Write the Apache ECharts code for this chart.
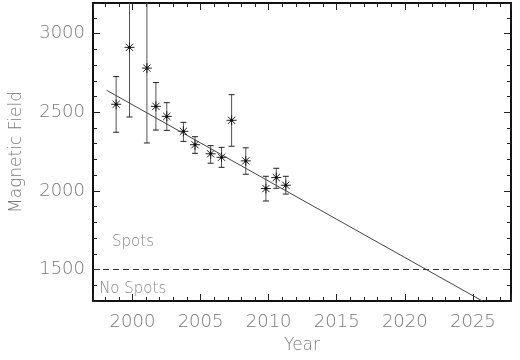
<!DOCTYPE html>
<html>
<head>
<meta charset="utf-8">
<script src="https://cdn.jsdelivr.net/npm/echarts@6/dist/echarts.min.js"></script>
<style>
  html, body { margin: 0; padding: 0; background: #fff; }
  #container { width: 520px; height: 360px; }
</style>
</head>
<body>
<div id="container"></div>
<script>
const years = [1998.8, 1999.78, 2001.06, 2001.72, 2002.52, 2003.74, 2004.59, 2005.74, 2006.54, 2007.28, 2008.32, 2009.8, 2010.56, 2011.26];
const field = [2551, 2913, 2781, 2538, 2474, 2379, 2294, 2236, 2214, 2449, 2191, 2015, 2085, 2036];
const errLow = [2373, 2470, 2305, 2387, 2385, 2315, 2239, 2176, 2150, 2284, 2106, 1936, 2017, 1980];
const errHigh = [2727, 3356, 3257, 2689, 2561, 2436, 2345, 2288, 2277, 2612, 2274, 2093, 2144, 2093];

// linear fit end points
const fitYears = [1998.1, 2025.7];
const fitField = [2640, 1300];

const threshold = 1500;
const notes = [
    { text: 'Spots', year: 1998.5, value: 1675 },
    { text: 'No Spots', year: 1997.55, value: 1375 }
];

const xMin = 1997.1, xMax = 2027.8;
const yMin = 1300, yMax = 3195;

const FONT = 'DejaVu Sans';
const TXT = '#7a7a7a';

const myChart = echarts.init(document.getElementById('container'));

const errData = years.map((y, i) => [y, field[i], errLow[i], errHigh[i]]);
const fitData = fitYears.map((y, i) => [y, fitField[i]]);

const axisCommon = {
    type: 'value',
    axisLine: { show: true, lineStyle: { color: '#111', width: 2 } },
    axisTick: { show: true, inside: true, length: 7, lineStyle: { color: '#222', width: 1 } },
    minorTick: { show: true, splitNumber: 5, length: 4, lineStyle: { color: '#222', width: 1 } },
    splitLine: { show: false },
};

const option = {
    animation: false,
    backgroundColor: '#fff',
    grid: { left: 89, right: 9, top: 3, bottom: 59 },
    xAxis: [
        Object.assign({}, axisCommon, {
            min: xMin, max: xMax,
            position: 'bottom',
            name: 'Year',
            nameLocation: 'middle',
            nameGap: 36,
            nameTextStyle: { fontFamily: FONT, fontSize: 17, color: TXT, fontWeight: 200 },
            axisLabel: {
                fontFamily: FONT, fontSize: 18, color: TXT, fontWeight: 200, margin: 12,
                showMinLabel: false, showMaxLabel: false,
                formatter: v => (v % 5 === 0 ? String(v) : '')
            }
        }),
        Object.assign({}, axisCommon, {
            min: xMin, max: xMax,
            position: 'top',
            axisLabel: { show: false }
        })
    ],
    yAxis: [
        Object.assign({}, axisCommon, {
            min: yMin, max: yMax,
            splitNumber: 4,
            position: 'left',
            name: 'Magnetic Field',
            nameLocation: 'middle',
            nameGap: 68,
            nameTextStyle: { fontFamily: FONT, fontSize: 17, color: TXT, fontWeight: 200 },
            axisLabel: {
                fontFamily: FONT, fontSize: 18, color: TXT, fontWeight: 200, margin: 8,
                showMinLabel: false, showMaxLabel: false,
                formatter: v => (v % 500 === 0 ? String(v) : '')
            }
        }),
        Object.assign({}, axisCommon, {
            min: yMin, max: yMax,
            splitNumber: 4,
            position: 'right',
            axisLabel: { show: false }
        })
    ],
    series: [
        {
            name: 'fit',
            type: 'line',
            data: fitData,
            symbol: 'none',
            lineStyle: { color: '#444', width: 1 },
            markLine: {
                silent: true,
                symbol: 'none',
                label: { show: false },
                lineStyle: { color: '#333', width: 1, type: [6, 4] },
                data: [{ yAxis: threshold }]
            }
        },
        {
            name: 'field',
            type: 'custom',
            clip: true,
            data: errData,
            renderItem: function (params, api) {
                const c = api.coord([api.value(0), api.value(1)]);
                const lo = api.coord([api.value(0), api.value(2)]);
                const hi = api.coord([api.value(0), api.value(3)]);
                const cap = 3;
                const s = 5;
                const d = 3.6;
                const st = { stroke: '#222', lineWidth: 1 };
                return {
                    type: 'group',
                    children: [
                        { type: 'line', shape: { x1: lo[0], y1: lo[1], x2: hi[0], y2: hi[1] }, style: { stroke: '#555', lineWidth: 1 } },
                        { type: 'line', shape: { x1: lo[0] - cap, y1: lo[1], x2: lo[0] + cap, y2: lo[1] }, style: st },
                        { type: 'line', shape: { x1: hi[0] - cap, y1: hi[1], x2: hi[0] + cap, y2: hi[1] }, style: st },
                        { type: 'line', shape: { x1: c[0], y1: c[1] - s, x2: c[0], y2: c[1] + s }, style: st },
                        { type: 'line', shape: { x1: c[0] - s, y1: c[1], x2: c[0] + s, y2: c[1] }, style: st },
                        { type: 'line', shape: { x1: c[0] - d, y1: c[1] - d, x2: c[0] + d, y2: c[1] + d }, style: st },
                        { type: 'line', shape: { x1: c[0] - d, y1: c[1] + d, x2: c[0] + d, y2: c[1] - d }, style: st },
                        { type: 'circle', shape: { cx: c[0], cy: c[1], r: 1.5 }, style: { fill: '#111' } }
                    ]
                };
            }
        },
        {
            name: 'notes',
            type: 'scatter',
            symbolSize: 0,
            silent: true,
            data: notes.map(n => ({ value: [n.year, n.value], name: n.text })),
            label: {
                show: true,
                position: 'right',
                distance: 0,
                formatter: '{b}',
                fontFamily: FONT, fontSize: 15, color: '#666', fontWeight: 200
            }
        }
    ]
};
myChart.setOption(option);
window.addEventListener('resize', () => {
    myChart.resize()
})
</script>
</body>
</html>
